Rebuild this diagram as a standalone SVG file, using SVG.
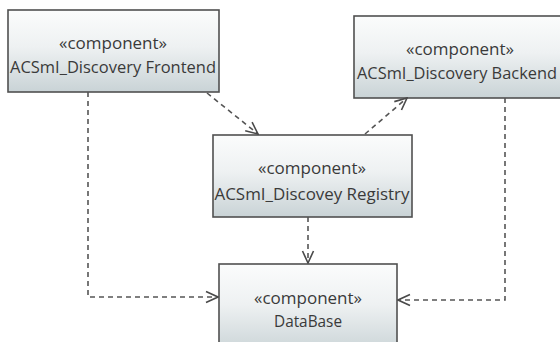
<svg xmlns="http://www.w3.org/2000/svg" width="560" height="342" viewBox="0 0 560 342">
<defs>
<linearGradient id="g" x1="0" y1="0" x2="0" y2="1">
<stop offset="0" stop-color="#fbfcfc"/>
<stop offset="0.45" stop-color="#eef1f2"/>
<stop offset="1" stop-color="#c9d3d6"/>
</linearGradient>
<marker id="arr" viewBox="0 0 14 14" refX="13" refY="7" markerWidth="14" markerHeight="14" markerUnits="userSpaceOnUse" orient="auto">
<path d="M1,1.5 L13,7 L1,12.5" fill="none" stroke="#4a4a4a" stroke-width="1.6"/>
</marker>
</defs>
<style>
.box{fill:url(#g);stroke:#505050;stroke-width:1.6}
.t{font-family:"Open Sans","Noto Sans",sans-serif;font-size:16.5px;fill:#3a3a3a;text-anchor:middle}
.c{fill:none;stroke:#555;stroke-width:1.6;stroke-dasharray:5,4;marker-end:url(#arr)}
</style>
<rect width="560" height="342" fill="#fff"/>
<g id="frontend">
<rect class="box" x="8" y="10" width="211" height="82"/>
<text class="t" x="113" y="49" textLength="108" lengthAdjust="spacingAndGlyphs">«component»</text>
<text class="t" x="113" y="73" textLength="206" lengthAdjust="spacingAndGlyphs">ACSmI_Discovery Frontend</text>
</g>
<g id="backend">
<rect class="box" x="354" y="16" width="212" height="82"/>
<text class="t" x="460" y="55" textLength="108" lengthAdjust="spacingAndGlyphs">«component»</text>
<text class="t" x="457" y="79" textLength="200" lengthAdjust="spacingAndGlyphs">ACSmI_Discovery Backend</text>
</g>
<g id="registry">
<rect class="box" x="213" y="135" width="199" height="82"/>
<text class="t" x="312" y="174" textLength="108" lengthAdjust="spacingAndGlyphs">«component»</text>
<text class="t" x="312" y="200" textLength="195" lengthAdjust="spacingAndGlyphs">ACSmI_Discovey Registry</text>
</g>
<g id="database">
<rect class="box" x="219" y="264" width="178" height="90"/>
<text class="t" x="308" y="304" textLength="108" lengthAdjust="spacingAndGlyphs">«component»</text>
<text class="t" x="308" y="327" textLength="68" lengthAdjust="spacingAndGlyphs">DataBase</text>
</g>
<g id="connectors">
<path class="c" d="M207,93 L258,134"/>
<path class="c" d="M365,134 L407,98"/>
<path class="c" d="M308,217 L308,263"/>
<path class="c" d="M88,92 L88,297 L218,297"/>
<path class="c" d="M505,98 L505,300 L398,300"/>
</g>
</svg>
